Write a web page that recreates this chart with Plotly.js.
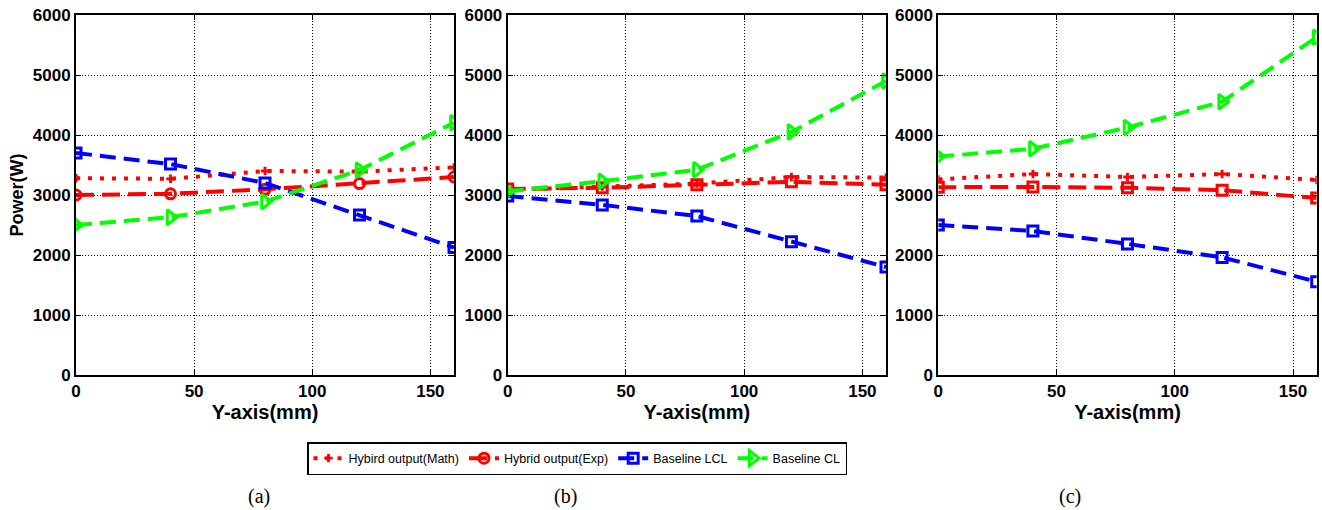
<!DOCTYPE html>
<html>
<head>
<meta charset="utf-8">
<script src="https://cdn.plot.ly/plotly-3.0.1.min.js"></script>
<style>html,body{margin:0;padding:0;background:#fff;}#chart{width:1322px;height:510px;}</style>
</head>
<body>
<div id="chart"></div>
<script>
const xPos = [0, 40, 80, 120, 160];
const seriesNames = ['Hybird output(Math)', 'Hybrid output(Exp)', 'Baseline LCL', 'Baseline CL'];
const panelLabels = ['(a)', '(b)', '(c)'];

const mathA = [3280, 3270, 3400, 3390, 3460];
const expA  = [3000, 3020, 3095, 3190, 3300];
const lclA  = [3700, 3515, 3200, 2665, 2125];
const clA   = [2500, 2630, 2890, 3415, 4205];

const mathB = [3090, 3140, 3190, 3300, 3290];
const expB  = [3100, 3120, 3170, 3220, 3170];
const lclB  = [2985, 2835, 2650, 2220, 1800];
const clB   = [3060, 3230, 3420, 4050, 4900];

const mathC = [3260, 3350, 3300, 3350, 3250];
const expC  = [3130, 3135, 3120, 3080, 2950];
const lclC  = [2500, 2400, 2185, 1960, 1555];
const clC   = [3640, 3770, 4125, 4555, 5630];

const panels = [
  {math: mathA, exp: expA, lcl: lclA, cl: clA, expSym: 'circle-open'},
  {math: mathB, exp: expB, lcl: lclB, cl: clB, expSym: 'square-open'},
  {math: mathC, exp: expC, lcl: lclC, cl: clC, expSym: 'square-open'}
];

const RED = '#ff0000', BLUE = '#0000ff', GREEN = '#00ff00';
const traces = [];
panels.forEach((p, i) => {
  const xa = i === 0 ? 'x' : 'x' + (i + 1);
  const ya = i === 0 ? 'y' : 'y' + (i + 1);
  const show = i === 0;
  traces.push({x: xPos, y: p.math, xaxis: xa, yaxis: ya, name: seriesNames[0], showlegend: show, legendrank: 1,
    mode: 'lines+markers', line: {color: RED, width: 4, dash: '4px,8px'},
    marker: {symbol: 'cross', size: 7, color: RED}});
  traces.push({x: xPos, y: p.exp, xaxis: xa, yaxis: ya, name: seriesNames[1], showlegend: show, legendrank: 2,
    mode: 'lines+markers', line: {color: RED, width: 4, dash: '18px,8px'},
    marker: {symbol: p.expSym, size: 10, color: RED, line: {width: 3, color: RED}}});
  traces.push({x: xPos, y: p.lcl, xaxis: xa, yaxis: ya, name: seriesNames[2], showlegend: show, legendrank: 3,
    mode: 'lines+markers', line: {color: BLUE, width: 4, dash: '16px,8px'},
    marker: {symbol: 'square-open', size: 10, color: BLUE, line: {width: 3, color: BLUE}}});
  traces.push({x: xPos, y: p.cl, xaxis: xa, yaxis: ya, name: seriesNames[3], showlegend: show, legendrank: 4,
    mode: 'lines+markers', line: {color: GREEN, width: 4, dash: '16px,8px'},
    marker: {symbol: 'triangle-right-open', size: 13, color: GREEN, line: {width: 3, color: GREEN}}});
});

const W = 1322, H = 510;
const doms = [[76, 454], [507.7, 886], [938.3, 1316.7]];
const tickFont = {family: 'Liberation Sans, Arial, sans-serif', size: 17, color: '#000', weight: 'bold'};
const xTitleFont = {family: 'Liberation Sans, Arial, sans-serif', size: 20, color: '#000', weight: 'bold'};
const yTitleFont = {family: 'Liberation Sans, Arial, sans-serif', size: 18, color: '#000', weight: 'bold'};

const layout = {
  width: W, height: H,
  margin: {l: 0, r: 0, t: 0, b: 0},
  paper_bgcolor: '#fff', plot_bgcolor: '#fff',
  showlegend: true,
  legend: {orientation: 'h', x: 307 / W, y: 1 - 442 / H, xanchor: 'left', yanchor: 'top',
    bgcolor: '#fff', bordercolor: '#000', borderwidth: 1.5,
    font: {family: 'Liberation Sans, Arial, sans-serif', size: 12.5, color: '#000'},
    itemwidth: 30, tracegroupgap: 0},
  annotations: panelLabels.map((t, i) => ({
    text: t, xref: 'paper', yref: 'paper', showarrow: false,
    x: [259, 565, 1070][i] / W, y: 1 - 496 / H, xanchor: 'center', yanchor: 'middle',
    font: {family: 'Liberation Serif, Times New Roman, serif', size: 20, color: '#000'}
  }))
};

doms.forEach((d, i) => {
  const xk = i === 0 ? 'xaxis' : 'xaxis' + (i + 1);
  const yk = i === 0 ? 'yaxis' : 'yaxis' + (i + 1);
  const xa = i === 0 ? 'x' : 'x' + (i + 1);
  const ya = i === 0 ? 'y' : 'y' + (i + 1);
  layout[xk] = {
    domain: [d[0] / W, d[1] / W], anchor: ya, range: [0, 160], dtick: 50, tick0: 0,
    showgrid: true, gridcolor: '#000', griddash: '1px,2px', gridwidth: 1,
    showline: true, linecolor: '#000', linewidth: 2, mirror: 'ticks',
    ticks: 'inside', ticklen: 5, tickcolor: '#000', tickwidth: 1,
    zeroline: false, tickfont: tickFont,
    title: {text: 'Y-axis(mm)', font: xTitleFont, standoff: 4}
  };
  layout[yk] = {
    domain: [1 - 375 / H, 1 - 15 / H], anchor: xa, range: [0, 6000], dtick: 1000, tick0: 0,
    showgrid: true, gridcolor: '#000', griddash: '1px,2px', gridwidth: 1,
    showline: true, linecolor: '#000', linewidth: 2, mirror: 'ticks',
    ticks: 'inside', ticklen: 5, tickcolor: '#000', tickwidth: 1,
    zeroline: false, tickfont: tickFont,
    title: i === 0 ? {text: 'Power(W)', font: yTitleFont, standoff: 4} : {text: ''}
  };
});

Plotly.newPlot('chart', traces, layout, {displayModeBar: false, staticPlot: true});
</script>
</body>
</html>
